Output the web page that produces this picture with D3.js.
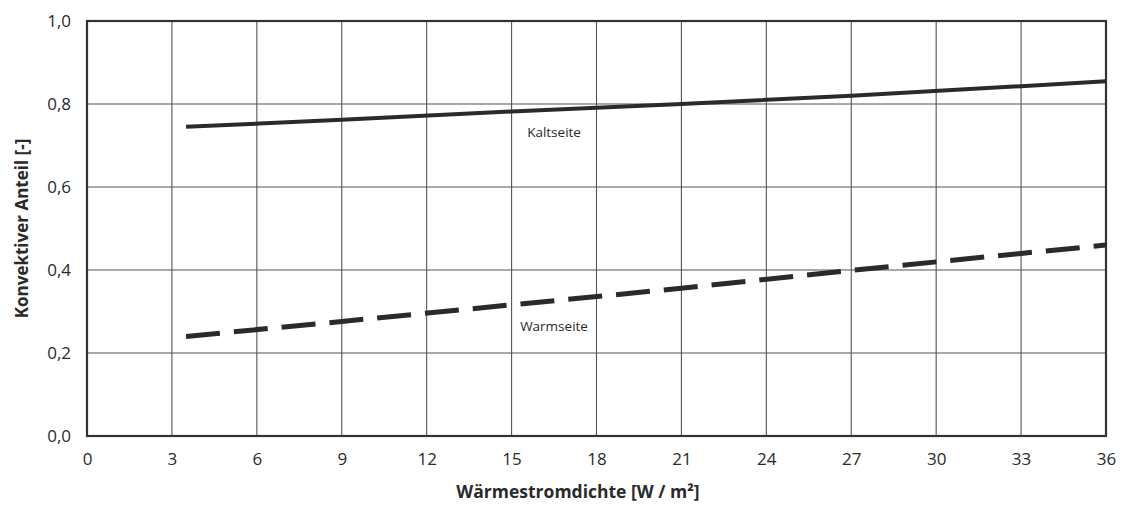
<!DOCTYPE html>
<html>
<head>
<meta charset="utf-8">
<script src="https://cdn.jsdelivr.net/npm/d3@7"></script>
<style>
  body { margin: 0; background: #fff; }
  text { font-family: "Open Sans", sans-serif; fill: #2a2a2a; }
</style>
</head>
<body>
<div id="chart"></div>
<script>
(() => {
    const width = 1126;
    const height = 509;
    const margin = { top: 21, right: 20, bottom: 73, left: 87 };

    // data
    const xTicks = [0, 3, 6, 9, 12, 15, 18, 21, 24, 27, 30, 33, 36];
    const yTicks = [0, 0.2, 0.4, 0.6, 0.8, 1.0];
    const kaltX = [3.5, 9, 15, 21, 27, 33, 36];
    const kaltY = [0.745, 0.762, 0.782, 0.800, 0.820, 0.843, 0.855];
    const warmX = [3.5, 9, 15, 21, 27, 33, 36];
    const warmY = [0.240, 0.276, 0.316, 0.356, 0.399, 0.440, 0.460];

    const svg = d3.select("#chart").append("svg")
        .attr("width", width)
        .attr("height", height);

    const x = d3.scaleLinear().domain([0, 36]).range([margin.left, width - margin.right]);
    const y = d3.scaleLinear().domain([0, 1]).range([height - margin.bottom, margin.top]);

    // grid
    svg.append("g").selectAll("line")
        .data(xTicks.slice(1, -1))
        .join("line")
        .attr("x1", d => x(d)).attr("x2", d => x(d))
        .attr("y1", y(0)).attr("y2", y(1))
        .attr("stroke", "#555").attr("stroke-width", 1.1);
    svg.append("g").selectAll("line")
        .data(yTicks.slice(1, -1))
        .join("line")
        .attr("x1", x(0)).attr("x2", x(36))
        .attr("y1", d => y(d)).attr("y2", d => y(d))
        .attr("stroke", "#555").attr("stroke-width", 1.1);

    // frame
    svg.append("rect")
        .attr("x", x(0)).attr("y", y(1))
        .attr("width", x(36) - x(0)).attr("height", y(0) - y(1))
        .attr("fill", "none").attr("stroke", "#333").attr("stroke-width", 2.2);

    // axes (labels only)
    const fmt = d3.format(".1f");
    const xAxis = svg.append("g")
        .attr("transform", `translate(0,${y(0)})`)
        .call(d3.axisBottom(x).tickValues(xTicks).tickSize(0).tickPadding(17));
    xAxis.select(".domain").remove();
    xAxis.selectAll("text").attr("font-size", 17).attr("font-family", "Open Sans, sans-serif").attr("fill", "#2a2a2a");

    const yAxis = svg.append("g")
        .attr("transform", `translate(${x(0)},0)`)
        .call(d3.axisLeft(y).tickValues(yTicks).tickSize(0).tickPadding(16)
            .tickFormat(d => fmt(d).replace(".", ",")));
    yAxis.select(".domain").remove();
    yAxis.selectAll("text").attr("font-size", 17).attr("font-family", "Open Sans, sans-serif").attr("fill", "#2a2a2a");

    // lines
    const line = d3.line().x(d => x(d[0])).y(d => y(d[1]));
    svg.append("path")
        .datum(d3.zip(kaltX, kaltY))
        .attr("d", line)
        .attr("fill", "none").attr("stroke", "#2a2a2a").attr("stroke-width", 4);
    svg.append("path")
        .datum(d3.zip(warmX, warmY))
        .attr("d", line)
        .attr("fill", "none").attr("stroke", "#2a2a2a").attr("stroke-width", 5)
        .attr("stroke-dasharray", "34,14");

    // series labels
    svg.append("text").attr("x", x(16.5)).attr("y", y(0.72))
        .attr("text-anchor", "middle").attr("font-size", 13.5).text("Kaltseite");
    svg.append("text").attr("x", x(16.5)).attr("y", y(0.253))
        .attr("text-anchor", "middle").attr("font-size", 13.5).text("Warmseite");

    // axis titles
    svg.append("text")
        .attr("x", 578).attr("y", 498)
        .attr("text-anchor", "middle").attr("font-size", 17.5).attr("font-weight", "bold")
        .text("Wärmestromdichte [W / m²]");
    svg.append("text")
        .attr("transform", `translate(28,${(y(0) + y(1)) / 2}) rotate(-90)`)
        .attr("text-anchor", "middle").attr("font-size", 17).attr("font-weight", "bold")
        .text("Konvektiver Anteil [-]");
})();
</script>
</body>
</html>
